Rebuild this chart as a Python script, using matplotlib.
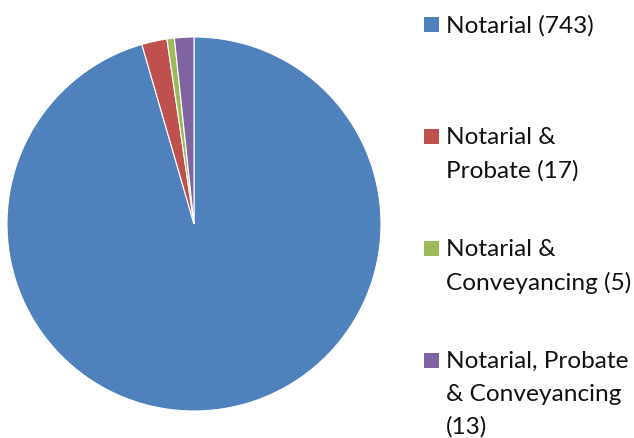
import matplotlib.pyplot as plt
from matplotlib.patches import Rectangle

labels = ["Notarial (743)", "Notarial &\nProbate (17)", "Notarial &\nConveyancing (5)",
          "Notarial, Probate\n& Conveyancing\n(13)"]
counts = [743, 17, 5, 13]
colors = ["#4F81BD", "#C0504D", "#9BBB59", "#8064A2"]

W, H = 634, 439
fig = plt.figure(figsize=(W / 100, H / 100), dpi=100)

# pie centred at (194, 225) px, radius 187 px
cx, cy, r = 194, 225, 187
ax = fig.add_axes([(cx - r) / W, (H - cy - r) / H, 2 * r / W, 2 * r / H])
ax.pie(counts, colors=colors, startangle=90, counterclock=False,
       wedgeprops=dict(edgecolor="white", linewidth=0.8))
ax.set_xlim(-1, 1)
ax.set_ylim(-1, 1)
ax.set_aspect("equal")
ax.axis("off")

# legend entries, one every 112 px
for i, (lab, col) in enumerate(zip(labels, colors)):
    yc = 25 + i * 112
    fig.patches.append(Rectangle((424 / W, 1 - (yc + 7.5) / H), 15 / W, 15 / H,
                                 transform=fig.transFigure, facecolor=col,
                                 edgecolor="none"))
    fig.text(446 / W, 1 - (yc - 10) / H, lab, fontsize=17.6, family="Lato",
             va="top", ha="left", linespacing=1.68, color="#111111")

fig.savefig("out.png", dpi=100)
